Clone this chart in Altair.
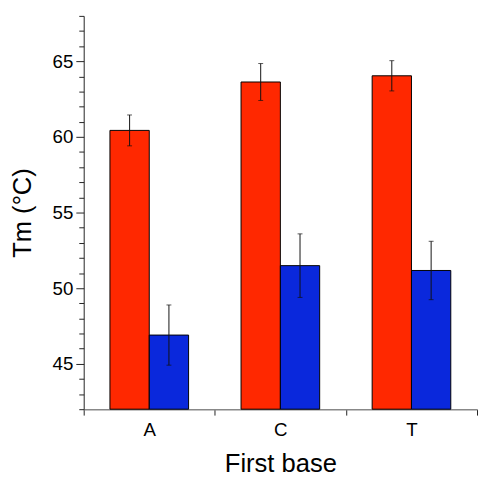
import altair as alt
import pandas as pd

bases = ["A", "C", "T"]
series = ["Red", "Blue"]
red_vals = [60.43, 63.63, 64.04]
red_err = [1.02, 1.22, 1.00]
blue_vals = [46.90, 51.49, 51.17]
blue_err = [1.99, 2.10, 1.93]
y_domain = [42, 68]
y_ticks = list(range(42, 69))
colors = ["#FF2800", "#0A28DC"]

rows = []
for i, b in enumerate(bases):
    rows.append({"base": b, "series": "Red", "tm": red_vals[i],
                 "lo": red_vals[i] - red_err[i], "hi": red_vals[i] + red_err[i]})
    rows.append({"base": b, "series": "Blue", "tm": blue_vals[i],
                 "lo": blue_vals[i] - blue_err[i], "hi": blue_vals[i] + blue_err[i]})
df = pd.DataFrame(rows)

FONT = "Liberation Sans"

x_axis = alt.Axis(tickBand="extent", labelAngle=0,
                  tickSize=6, tickColor="#222", tickWidth=1,
                  domainColor="#888", domainWidth=1.5,
                  labelPadding=6, titlePadding=11)
y_axis = alt.Axis(values=y_ticks,
                  labelExpr="datum.value % 5 == 0 ? datum.label : ''",
                  labelOverlap=False,
                  tickSize={"condition": {"test": "datum.value % 5 == 0", "value": 8}, "value": 5},
                  tickColor="#222", domainColor="#222", domainWidth=1,
                  labelPadding=3, titlePadding=17, grid=False)

x_enc = alt.X("base:N", sort=bases, title="First base",
              scale=alt.Scale(paddingInner=0, paddingOuter=0), axis=x_axis)
xoff = alt.XOffset("series:N", sort=series,
                   scale=alt.Scale(paddingInner=0, paddingOuter=0.667))
y_scale = alt.Scale(domain=y_domain, zero=False, nice=False)

base = alt.Chart(df).encode(x=x_enc, xOffset=xoff)

bars = base.mark_bar(stroke="#000", strokeWidth=1).encode(
    y=alt.Y("tm:Q", scale=y_scale, title="Tm (°C)", axis=y_axis),
    y2=alt.datum(y_domain[0]),
    color=alt.Color("series:N", sort=series,
                    scale=alt.Scale(domain=series, range=colors), legend=None),
)

err = base.mark_rule(color="#111", strokeWidth=1).encode(
    y=alt.Y("lo:Q", scale=y_scale, title="Tm (°C)", axis=y_axis),
    y2="hi:Q",
)

cap_lo = base.mark_tick(color="#111", thickness=1, size=5).encode(
    y=alt.Y("lo:Q", scale=y_scale, title="Tm (°C)", axis=y_axis),
)
cap_hi = base.mark_tick(color="#111", thickness=1, size=5).encode(
    y=alt.Y("hi:Q", scale=y_scale, title="Tm (°C)", axis=y_axis),
)

chart = alt.layer(bars, err, cap_lo, cap_hi).properties(
    width=400, height=400,
    autosize=alt.AutoSizeParams(type="none"),
    padding={"left": 77, "top": 4, "right": 1, "bottom": 69},
).configure_view(stroke=None).configure_axis(
    labelFont=FONT, titleFont=FONT, labelFontSize=19, titleFontSize=26,
    titleFontWeight="normal", labelColor="#000", titleColor="#000",
)

chart.save("out.html", embed_options={"renderer": "svg", "actions": False})
